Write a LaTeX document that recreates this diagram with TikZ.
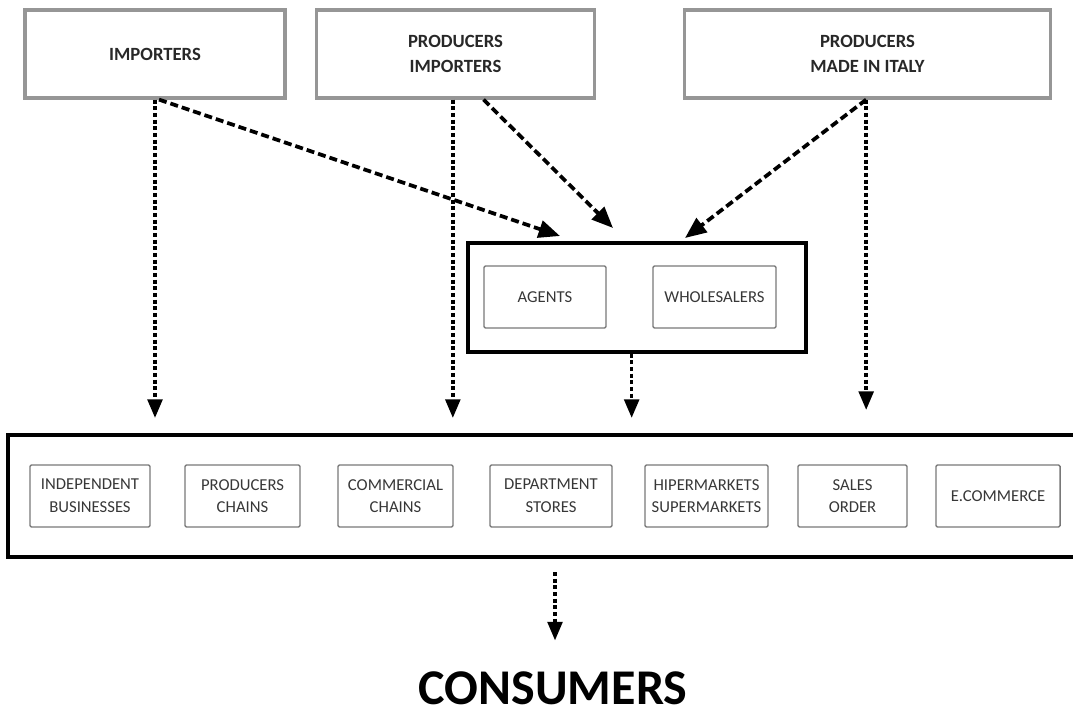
\documentclass[tikz,border=0pt]{standalone}
\usepackage{fontspec}
\setmainfont{Carlito}
\usepackage{tikz}
\usetikzlibrary{arrows.meta}
\usetikzlibrary{calc}

\tikzset{
  topbox/.style={draw={rgb,255:red,150;green,150;blue,150}, line width=2.4pt, minimum height=66pt, align=center, font=\fontsize{14}{19}\selectfont\bfseries, text={rgb,255:red,40;green,40;blue,40}},
  groupbox/.style={draw=black, line width=2.3pt},
  itembox/.style={draw={rgb,255:red,120;green,120;blue,120}, line width=1.1pt, rounded corners=1pt, minimum height=46.5pt, align=center, font=\fontsize{12.5}{17}\selectfont, text={rgb,255:red,55;green,55;blue,55}, inner sep=1pt},
  vflow/.style={line width=2.6pt, dash pattern=on 3pt off 2pt, -{Triangle[length=14pt,width=11pt]}},
  dflow/.style={line width=2.8pt, dash pattern=on 6pt off 3pt, -{Triangle[length=16pt,width=13pt]}}
}

\begin{document}
\begin{tikzpicture}[x=0.75pt,y=0.75pt,yscale=-1]
  \useasboundingbox (0,0) rectangle (1073,716);

  % Suppliers
  \node[topbox, minimum width=195pt] (imp) at (155,54) {IMPORTERS};
  \node[topbox, minimum width=209pt] (prodimp) at (455.5,54) {PRODUCERS\\IMPORTERS};
  \node[topbox, minimum width=274pt] (prodit) at (867.5,54) {PRODUCERS\\MADE IN ITALY};

  % Intermediaries
  \node[groupbox, minimum width=253.5pt, minimum height=81.75pt] (mid) at (637,297.5) {};
  \node[itembox, minimum width=91.5pt] (agents) at (545,297) {AGENTS};
  \node[itembox, minimum width=92.25pt] (whole) at (714.5,297) {WHOLESALERS};

  % Retail channels
  \node[groupbox, minimum width=804pt, minimum height=91.5pt] (retail) at (544,496) {};
  \node[itembox, minimum width=90pt] (indep) at (90,496) {INDEPENDENT\\BUSINESSES};
  \node[itembox, minimum width=86.25pt] (prodch) at (242.5,496) {PRODUCERS\\CHAINS};
  \node[itembox, minimum width=86.25pt] (comm) at (395.5,496) {COMMERCIAL\\CHAINS};
  \node[itembox, minimum width=91.5pt] (dept) at (551,496) {DEPARTMENT\\STORES};
  \node[itembox, minimum width=92.25pt] (hiper) at (706.5,496) {HIPERMARKETS\\SUPERMARKETS};
  \node[itembox, minimum width=81.75pt] (sales) at (852.5,496) {SALES\\ORDER};
  \node[itembox, minimum width=93pt] (ecomm) at (998,496) {E.COMMERCE};

  % Final customers
  \node[font=\fontsize{37.5}{40}\selectfont\bfseries, inner sep=0pt] (cons) at (553,688) {CONSUMERS};

  % Arrow ends
  \coordinate (lvl) at (0,418);
  \coordinate (toagents) at (560,236);
  \coordinate (tomid) at (613,228);
  \coordinate (towhole) at (685,238);
  \coordinate (below) at (555,572);

  % Flows
  \draw[vflow] (imp.south) -- (imp.south |- lvl);
  \draw[dflow] ([xshift=3pt]imp.south) -- (toagents);
  \draw[vflow] ([xshift=-2pt]prodimp.south) -- ([xshift=-2pt]prodimp.south |- lvl);
  \draw[dflow] ([xshift=21pt]prodimp.south) -- (tomid);
  \draw[dflow] ([xshift=-1pt]prodit.south) -- (towhole);
  \draw[vflow, shorten >=6pt] ([xshift=-1pt]prodit.south) -- ([xshift=-1pt]prodit.south |- lvl);
  \draw[vflow] ([xshift=-4pt]mid.south) -- ([xshift=-4pt]mid.south |- lvl);
  \draw[vflow, shorten >=23pt] (below) -- (below |- cons.north);
\end{tikzpicture}
\end{document}
